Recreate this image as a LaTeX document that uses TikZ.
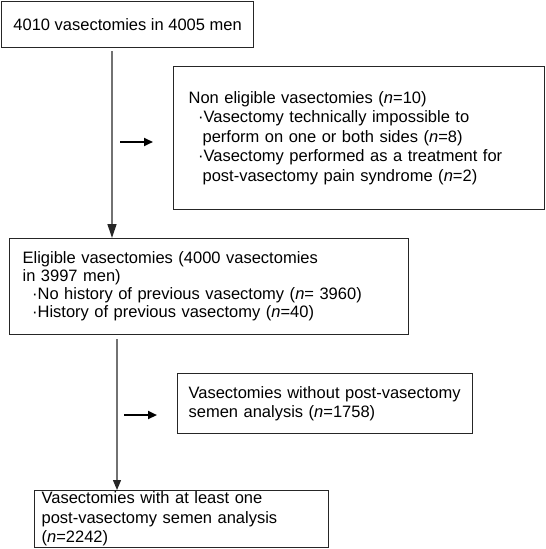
\documentclass[tikz,border=0pt]{standalone}
\usepackage{fontspec}
\setmainfont{Liberation Sans}
\usetikzlibrary{arrows.meta}
\begin{document}
\begin{tikzpicture}[x=1bp,y=-1bp,
  box/.style={draw=black!85, line width=1.2bp, anchor=north west, inner ysep=0pt,
    font=\fontsize{16.5bp}{19.5bp}\selectfont},
  lbox/.style={box, align=left},
  vline/.style={draw=black!85, line width=1.3bp},
  harrow/.style={draw=black, line width=2.2bp, -{Triangle[length=9bp,width=8bp]}},
]
\useasboundingbox (0,0) rectangle (546,549);
\node[box, minimum width=252bp, minimum height=46bp, align=center] (b1) at (1,1) {4010 vasectomies in 4005 men};
\node[lbox, minimum width=371bp, minimum height=143bp, inner xsep=15bp, text width=341bp] (b2) at (173,66)
  {Non eligible vasectomies (\textit{n}=10)\\
   \hspace*{9.5bp}·Vasectomy technically impossible to\\
   \hspace*{14bp}perform on one or both sides (\textit{n}=8)\\
   \hspace*{9.5bp}·Vasectomy performed as a treatment for\\
   \hspace*{14bp}post-vasectomy pain syndrome (\textit{n}=2)};
\node[lbox, minimum width=399bp, minimum height=96bp, inner xsep=13bp, text width=373bp,
  font=\fontsize{16.5bp}{18bp}\selectfont] (b3) at (9,238)
  {Eligible vasectomies (4000 vasectomies\\
   in 3997 men)\\
   \hspace*{9.5bp}·No history of previous vasectomy (\textit{n}= 3960)\\
   \hspace*{9.5bp}·History of previous vasectomy (\textit{n}=40)};
\node[lbox, minimum width=295bp, minimum height=60bp, inner xsep=11bp, text width=273bp] (b4) at (177,373)
  {Vasectomies without post-vasectomy\\
   semen analysis (\textit{n}=1758)};
\node[lbox, minimum width=294bp, minimum height=57bp, inner xsep=7bp, text width=280bp] (b5) at (34,490)
  {Vasectomies with at least one\\
   post-vasectomy semen analysis\\
   (\textit{n}=2242)};
\draw[vline, -{Triangle[length=14bp,width=9bp]}] ([xshift=111bp,yshift=-3bp]b1.south west) -- ([xshift=103bp]b3.north west);
\draw[vline, -{Triangle[length=10bp,width=8bp]}] ([xshift=108bp,yshift=-4bp]b3.south west) -- ([xshift=83bp]b5.north west);
\coordinate (h1s) at (120,142);
\coordinate (h1e) at (153,142);
\coordinate (h2s) at (124,415);
\coordinate (h2e) at (157,415);
\draw[harrow] (h1s) -- (h1e);
\draw[harrow] (h2s) -- (h2e);
\end{tikzpicture}
\end{document}
